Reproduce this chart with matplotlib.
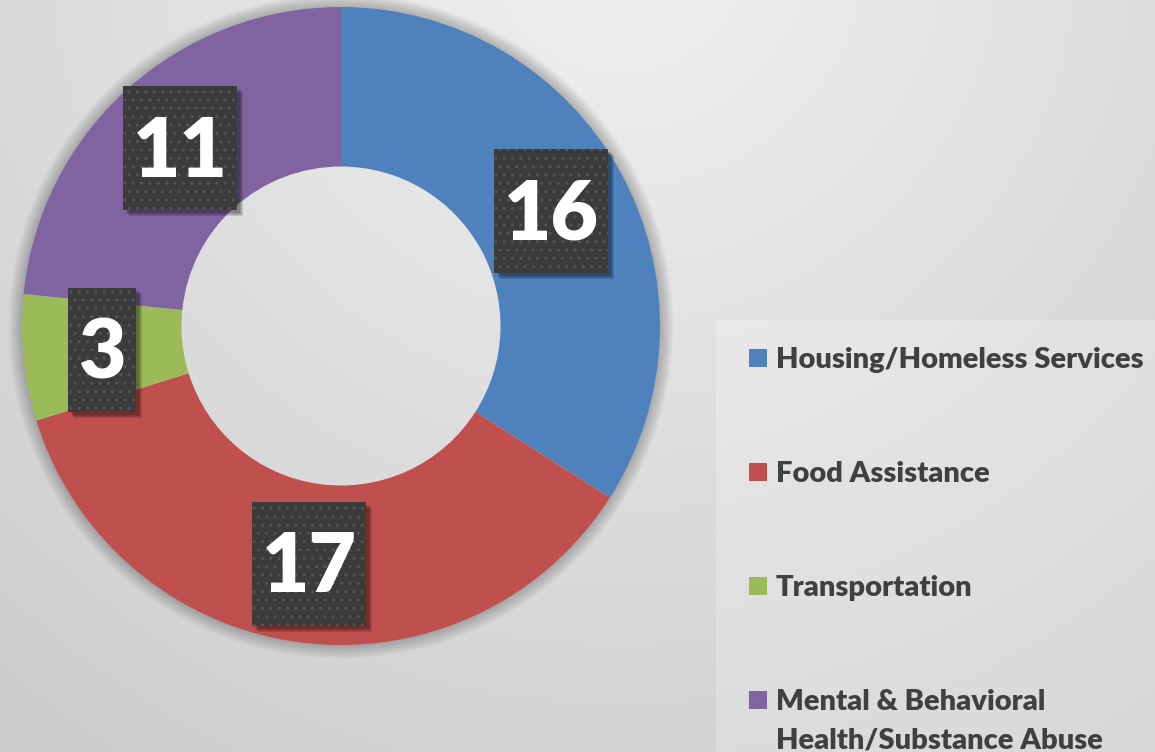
import numpy as np
import matplotlib
matplotlib.use("Agg")
import matplotlib.pyplot as plt
from matplotlib.patches import Rectangle, Wedge

categories = ["Housing/Homeless Services", "Food Assistance", "Transportation",
              "Mental & Behavioral\nHealth/Substance Abuse"]
values = [16, 17, 3, 11]
colors = ["#4f81bd", "#c0504d", "#9bbb59", "#8064a2"]

W, H = 1155, 752
fig = plt.figure(figsize=(W / 100, H / 100), dpi=100)

# background gradient
bg = fig.add_axes([0, 0, 1, 1], zorder=-5)
yy, xx = np.mgrid[0:H, 0:W]
d = np.sqrt((xx - 620) ** 2 + ((yy + 60) * 1.0) ** 2)
lev = 0.945 - 0.13 * np.clip(d / 900, 0, 1.2)
img = np.dstack([lev, lev, lev])
bg.imshow(img, extent=[0, 1, 0, 1], aspect="auto", origin="upper")
bg.axis("off")

# legend panel
panel = fig.add_axes([0, 0, 1, 1], zorder=-4)
panel.set_xlim(0, W)
panel.set_ylim(H, 0)
panel.axis("off")
panel.add_patch(Rectangle((716, 320), W - 716, H - 320, facecolor="white",
                          alpha=0.22, edgecolor="none"))

# donut axes: 1 data unit = R px
R = 319.0
cx, cy = 341.0, 326.0
span = 1.2
axw = 2 * span * R
ax = fig.add_axes([(cx - span * R) / W, (H - cy - span * R) / H, axw / W, axw / H], zorder=1)
ax.patch.set_alpha(0)

# soft shadow ring around the donut
for i in range(12):
    rr = 1.0 + 0.0035 * (i + 1)
    ax.add_patch(Wedge((0, 0), rr, 0, 360, width=rr - 0.99, facecolor="black",
                       alpha=0.018, edgecolor="none", zorder=0))

wedges, _ = ax.pie(values, colors=colors, startangle=90, counterclock=False,
                   radius=1.0, wedgeprops=dict(width=0.5, edgecolor="none", linewidth=0),
                   center=(0, 0), frame=True)
ax.set_xlim(-span, span)
ax.set_ylim(-span, span)
ax.axis("off")
ax.set_aspect("auto")

# data labels
px = 1.0 / R
label_r = 0.752
for w, v in zip(wedges, values):
    ang = np.deg2rad((w.theta1 + w.theta2) / 2)
    x, y = label_r * np.cos(ang), label_r * np.sin(ang)
    txt = str(v)
    bw = (len(txt) * 46 + 22) * px
    bh = 124 * px
    for k in range(4):
        ax.add_patch(Rectangle((x - bw / 2 + (3 + k) * px, y - bh / 2 - (3 + k) * px), bw, bh,
                               facecolor="black", alpha=0.12, edgecolor="none", zorder=3))
    ax.add_patch(Rectangle((x - bw / 2, y - bh / 2), bw, bh, facecolor="#3b3b3b",
                           edgecolor="none", zorder=4))
    ax.add_patch(Rectangle((x - bw / 2, y - bh / 2), bw, bh, facecolor="none",
                           edgecolor="#545454", linewidth=0, hatch="..", zorder=5))
    ax.text(x, y - 28.5 * px, txt, ha="center", va="baseline", color="white",
            fontsize=59, fontweight="heavy", family="Lato", zorder=6)

# legend
leg_y0 = 358
leg_dy = 114
line_dy = 38
for i, (cat, col) in enumerate(zip(categories, colors)):
    yc = leg_y0 + i * leg_dy
    panel.add_patch(Rectangle((749, yc - 9), 18, 18, facecolor=col, edgecolor="none"))
    for j, line in enumerate(cat.split("\n")):
        panel.text(776, yc + 10 + j * line_dy, line, ha="left", va="baseline",
                   color="#404040", fontsize=21, fontweight="heavy", family="Lato")

fig.savefig("out.png", dpi=100)
